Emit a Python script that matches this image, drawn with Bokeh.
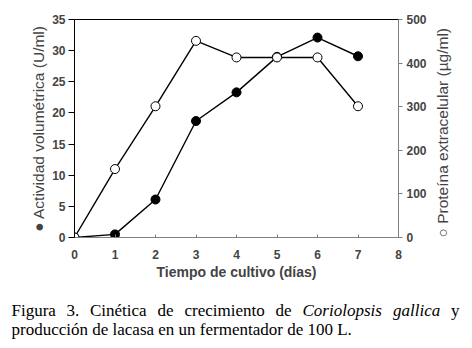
import math
from bokeh.plotting import figure
from bokeh.layouts import column
from bokeh.models import Range1d, LinearAxis, SingleIntervalTicker, Label, ColumnDataSource
from bokeh.embed import file_html
from bokeh.resources import INLINE

# data
dias = [0, 1, 2, 3, 4, 5, 6, 7]
actividad = [0.0, 0.5, 6.1, 18.7, 23.3, 29.0, 32.1, 29.1]          # U/ml (left axis)
proteina = [0, 157, 301, 451, 413, 413, 413, 301]                   # ug/ml (right axis)

x_label = "Tiempo de cultivo (días)"
y_label = "● Actividad volumétrica (U/ml)"
y2_label = "○ Proteína extracelular (µg/ml)"

# caption, first line justified word by word, second line as one run
caption1 = [("Figura", False), ("3.", False), ("Cinética", False), ("de", False),
            ("crecimiento", False), ("de", False), ("Coriolopsis", True),
            ("gallica", True), ("y", False)]
caption1_x = [11, 66, 89.5, 157, 184, 275, 302, 392.5, 450.5]
caption2 = "producción de lacasa en un fermentador de 100 L."

p = figure(frame_width=324, frame_height=218,
           x_range=Range1d(0, 8), y_range=Range1d(0, 35),
           min_border_left=74, min_border_right=74, min_border_top=19, min_border_bottom=53,
           output_backend="svg", toolbar_location=None)
p.extra_y_ranges = {"prot": Range1d(0, 500)}
p.grid.visible = False
p.outline_line_color = "black"
p.background_fill_color = "white"
p.border_fill_color = "white"

tick_font = "Liberation Sans"

xa = p.xaxis[0]
xa.ticker = SingleIntervalTicker(interval=1)
xa.axis_line_color = "#808080"
xa.major_tick_line_color = "#808080"
xa.major_tick_in = 3
xa.major_tick_out = 0
xa.minor_tick_line_color = None
xa.major_label_text_font = tick_font
xa.major_label_text_font_style = "bold"
xa.major_label_text_font_size = "12px"
xa.major_label_standoff = 8
xa.axis_label = x_label
xa.axis_label_text_font = tick_font
xa.axis_label_text_font_style = "bold"
xa.axis_label_text_font_size = "14px"
xa.axis_label_standoff = 2

ya = p.yaxis[0]
ya.ticker = SingleIntervalTicker(interval=5)
ya.axis_line_color = "black"
ya.major_tick_line_color = "black"
ya.major_tick_in = 0
ya.major_tick_out = 6
ya.minor_tick_line_color = None
ya.major_label_text_font = tick_font
ya.major_label_text_font_style = "bold"
ya.major_label_text_font_size = "12px"
ya.major_label_standoff = 3
ya.axis_label = y_label
ya.axis_label_text_font = tick_font
ya.axis_label_text_font_style = "normal"
ya.axis_label_text_font_size = "15.5px"
ya.axis_label_standoff = 2

ra = LinearAxis(y_range_name="prot", ticker=SingleIntervalTicker(interval=100))
ra.axis_line_color = "#808080"
ra.major_tick_line_color = "#808080"
ra.major_tick_in = 0
ra.major_tick_out = 4
ra.minor_tick_line_color = None
ra.major_label_text_font = tick_font
ra.major_label_text_font_style = "bold"
ra.major_label_text_font_size = "12px"
ra.major_label_standoff = 4
ra.axis_label = y2_label
ra.axis_label_text_font = tick_font
ra.axis_label_text_font_style = "normal"
ra.axis_label_text_font_size = "15.5px"
ra.axis_label_standoff = 13
if "axis_label_orientation" in ra.properties():
    ra.axis_label_orientation = math.pi / 2
if "axis_label_align" in ra.properties():
    ra.axis_label_align = "start"
p.add_layout(ra, "right")

src = ColumnDataSource(dict(x=dias, a=actividad, pr=proteina))
p.line("x", "a", source=src, line_color="black", line_width=1.4)
p.scatter("x", "a", source=src, size=9, fill_color="black", line_color="black", line_width=1)
p.line("x", "pr", source=src, y_range_name="prot", line_color="black", line_width=1.4)
p.scatter("x", "pr", source=src, y_range_name="prot", size=9, fill_color="white",
          line_color="black", line_width=1)

# caption figure: data coordinates equal page pixels
cap = figure(frame_width=472, frame_height=56, x_range=Range1d(0, 472), y_range=Range1d(346, 290),
             min_border_left=0, min_border_right=0, min_border_top=0, min_border_bottom=0,
             x_axis_type=None, y_axis_type=None,
             output_backend="svg", toolbar_location=None)
cap.outline_line_color = None
cap.grid.visible = False
for fig in (p, cap):
    if "frame_align" in fig.properties():
        fig.frame_align = False
for (w, it), x in zip(caption1, caption1_x):
    cap.add_layout(Label(x=x, y=310, text=w,
                         text_font="Liberation Serif", text_font_size="17px",
                         text_font_style="italic" if it else "normal",
                         text_baseline="alphabetic", text_color="black"))
cap.add_layout(Label(x=11, y=329, text=caption2,
                     text_font="Liberation Serif", text_font_size="17px",
                     text_baseline="alphabetic", text_color="black"))

layout = column(p, cap, spacing=0)
open("out.html", "w").write(file_html(layout, INLINE))
